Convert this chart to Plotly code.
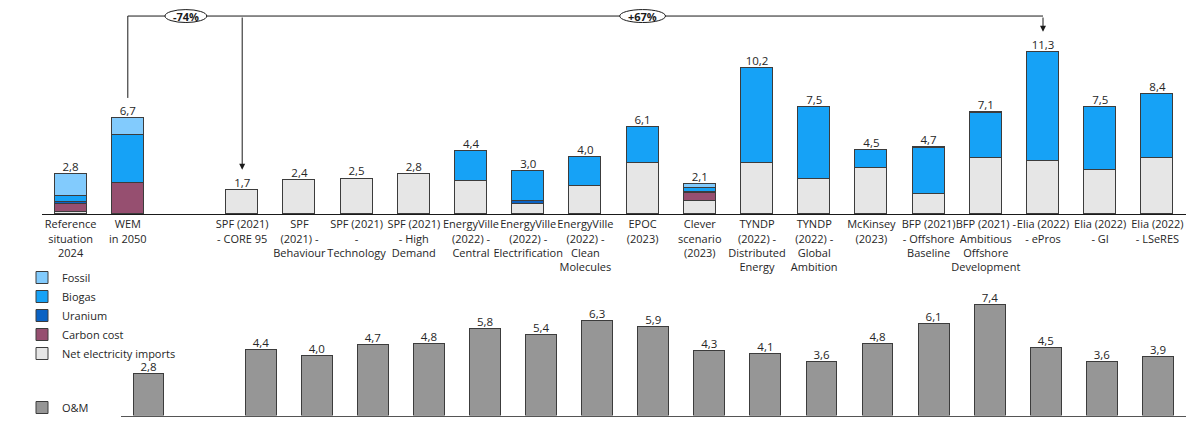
import plotly.graph_objects as go

# Scenario categories (top panel); slot 2 is left empty as a separator
categories = [
    "Reference<br>situation<br>2024", "WEM<br>in 2050",
    "SPF (2021)<br>- CORE 95", "SPF<br>(2021) -<br>Behaviour", "SPF (2021)<br>-<br>Technology",
    "SPF (2021)<br>- High<br>Demand", "EnergyVille<br>(2022) -<br>Central",
    "EnergyVille<br>(2022) -<br>Electrification", "EnergyVille<br>(2022) -<br>Clean<br>Molecules",
    "EPOC<br>(2023)", "Clever<br>scenario<br>(2023)", "TYNDP<br>(2022) -<br>Distributed<br>Energy",
    "TYNDP<br>(2022) -<br>Global<br>Ambition", "McKinsey<br>(2023)", "BFP (2021)<br>- Offshore<br>Baseline",
    "BFP (2021) -<br>Ambitious<br>Offshore<br>Development", "Elia (2022)<br>- ePros",
    "Elia (2022)<br>- GI", "Elia (2022)<br>- LSeRES",
]
top_slots = [0, 1] + list(range(3, 20))

# Cost components (bn EUR / year)
net_imports = [0.18, 0.0, 1.7, 2.4, 2.5, 2.8, 2.3, 0.75, 1.95, 3.6, 0.91, 3.6, 2.5, 3.25, 1.45, 3.9, 3.7, 3.1, 3.9]
carbon_cost = [0.55, 2.2, 0, 0, 0, 0, 0, 0, 0, 0, 0.6, 0, 0, 0, 0, 0, 0, 0, 0]
uranium     = [0.12, 0.0, 0, 0, 0, 0, 0, 0.2, 0, 0, 0.05, 0, 0, 0, 0, 0, 0, 0, 0]
biogas      = [0.41, 3.3, 0, 0, 0, 0, 2.1, 2.05, 2.05, 2.5, 0.3, 6.6, 5.0, 1.25, 3.2, 3.15, 7.6, 4.4, 4.5]
fossil      = [1.54, 1.2, 0, 0, 0, 0, 0, 0, 0, 0, 0.24, 0, 0, 0, 0.05, 0.05, 0, 0, 0]

# O&M costs (bottom panel); slot 1 is left empty
om_slots = [0] + list(range(2, 19))
om_values = [2.8, 4.4, 4.0, 4.7, 4.8, 5.8, 5.4, 6.3, 5.9, 4.3, 4.1, 3.6, 4.8, 6.1, 7.4, 4.5, 3.6, 3.9]

FONT = "Open Sans"
W, H = 1194, 422
EDGE = "#3c3c3c"

# vertical layout in pixels: baselines and scales of both panels
TOP_BASE, TOP_SCALE, TOP_MAX = 214.8, 14.4, 14.3
BOT_BASE, BOT_SCALE, BOT_MAX = 416.5, 15.0, 8.6


def nz(vals):
    return [v if v else None for v in vals]


def fmt(v):
    return f"{v:.1f}".replace(".", ",")


fig = go.Figure()

series = [
    ("Net electricity imports", net_imports, "#E6E6E6"),
    ("Carbon cost", carbon_cost, "#964F70"),
    ("Uranium", uranium, "#0A62C4"),
    ("Biogas", biogas, "#16A2F6"),
    ("Fossil", fossil, "#82CBFD"),
]
for name, vals, col in series:
    fig.add_trace(go.Bar(
        x=top_slots, y=nz(vals), name=name, width=0.56,
        marker=dict(color=col, line=dict(color=EDGE, width=1)),
        xaxis="x", yaxis="y", legend="legend", hoverinfo="skip",
    ))

totals = [round(sum(c), 1) for c in zip(net_imports, carbon_cost, uranium, biogas, fossil)]
fig.add_trace(go.Scatter(
    x=top_slots, y=totals, mode="text", text=[fmt(t) for t in totals],
    textposition="top center", textfont=dict(family=FONT, size=11.5, color="#262626"),
    showlegend=False, xaxis="x", yaxis="y", hoverinfo="skip",
))

fig.add_trace(go.Bar(
    x=om_slots, y=om_values, name="O&M", width=0.55,
    marker=dict(color="#969696", line=dict(color=EDGE, width=1)),
    xaxis="x2", yaxis="y2", legend="legend2", hoverinfo="skip",
))
fig.add_trace(go.Scatter(
    x=om_slots, y=om_values, mode="text", text=[fmt(v) for v in om_values],
    textposition="top center", textfont=dict(family=FONT, size=11.5, color="#262626"),
    showlegend=False, xaxis="x2", yaxis="y2", hoverinfo="skip",
))

# Comparison bracket between WEM, SPF CORE 95 and Elia ePros
LINE = dict(color="#1a1a1a", width=1)
y_top = 13.8
shapes = [
    dict(type="line", xref="x", yref="y", x0=1, x1=1, y0=8.1, y1=y_top, line=LINE),
    dict(type="line", xref="x", yref="y", x0=1, x1=17, y0=y_top, y1=y_top, line=LINE),
    dict(type="circle", xref="x", yref="y", x0=1.65, x1=2.38, y0=y_top - 0.45, y1=y_top + 0.45,
         line=LINE, fillcolor="white", layer="above"),
    dict(type="circle", xref="x", yref="y", x0=9.6, x1=10.4, y0=y_top - 0.45, y1=y_top + 0.45,
         line=LINE, fillcolor="white", layer="above"),
]
annotations = [
    dict(x=3, y=3.1, ax=3, ay=y_top, xref="x", yref="y", axref="x", ayref="y",
         showarrow=True, arrowhead=2, arrowsize=1.2, arrowwidth=1, arrowcolor="#1a1a1a",
         text="", standoff=0),
    dict(x=17, y=12.7, ax=17, ay=y_top, xref="x", yref="y", axref="x", ayref="y",
         showarrow=True, arrowhead=2, arrowsize=1.2, arrowwidth=1, arrowcolor="#1a1a1a",
         text="", standoff=0),
    dict(x=2.015, y=y_top, xref="x", yref="y", text="<b>-74%</b>", showarrow=False,
         font=dict(family=FONT, size=11, color="#1a1a1a")),
    dict(x=10.0, y=y_top, xref="x", yref="y", text="<b>+67%</b>", showarrow=False,
         font=dict(family=FONT, size=11, color="#1a1a1a")),
]

fig.update_layout(
    width=W, height=H,
    margin=dict(l=0, r=0, t=0, b=0),
    paper_bgcolor="white", plot_bgcolor="white",
    barmode="stack", bargap=0,
    font=dict(family=FONT, size=11, color="#262626"),
    shapes=shapes, annotations=annotations,
    xaxis=dict(
        domain=[42 / W, 1186 / W], range=[-0.5, 19.5], anchor="y",
        tickmode="array", tickvals=top_slots, ticktext=categories, tickangle=0,
        tickfont=dict(family=FONT, size=11, color="#262626"),
        showline=True, linecolor="#1a1a1a", linewidth=1, showgrid=False,
        zeroline=False, ticks="", fixedrange=True,
    ),
    yaxis=dict(
        domain=[1 - TOP_BASE / H, 1 - (TOP_BASE - TOP_MAX * TOP_SCALE) / H], range=[0, TOP_MAX],
        anchor="x", visible=False, fixedrange=True,
    ),
    xaxis2=dict(
        domain=[120.5 / W, 1186 / W], range=[-0.5, 18.5], anchor="y2",
        showticklabels=False, showline=True, linecolor="#555555", linewidth=1,
        showgrid=False, zeroline=False, ticks="", fixedrange=True,
    ),
    yaxis2=dict(
        domain=[1 - BOT_BASE / H, 1 - (BOT_BASE - BOT_MAX * BOT_SCALE) / H], range=[0, BOT_MAX],
        anchor="x2", visible=False, fixedrange=True,
    ),
    legend=dict(
        x=22 / W, y=1 - 263 / H, xanchor="left", yanchor="top",
        traceorder="reversed", bgcolor="rgba(0,0,0,0)",
        font=dict(family=FONT, size=11, color="#262626"),
        itemwidth=30, tracegroupgap=0,
    ),
    legend2=dict(
        x=22 / W, y=1 - 394 / H, xanchor="left", yanchor="top",
        bgcolor="rgba(0,0,0,0)",
        font=dict(family=FONT, size=11, color="#262626"),
        itemwidth=30,
    ),
)

fig.write_html("out.html")
